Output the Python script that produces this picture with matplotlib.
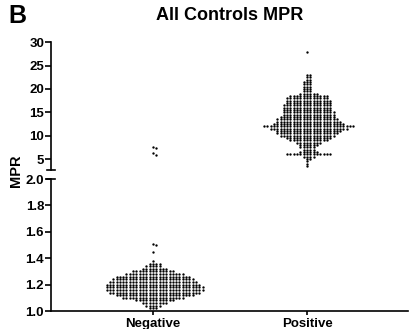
import numpy as np
import matplotlib
matplotlib.use("Agg")
import matplotlib.pyplot as plt

plt.rcParams['font.family'] = ['Liberation Sans', 'DejaVu Sans']
plt.rcParams['font.weight'] = 'bold'

# categories and x positions
categories = ['Negative', 'Positive']

# Negative controls: row levels (MPR) and number of dots in each row
neg_levels = [1.02, 1.04, 1.06, 1.08, 1.10, 1.12, 1.14, 1.16, 1.18, 1.20,
              1.22, 1.24, 1.26, 1.28, 1.30, 1.32, 1.34, 1.36, 1.38]
neg_counts = [3, 5, 8, 12, 19, 24, 28, 30, 30, 29,
              27, 25, 23, 18, 13, 8, 5, 4, 1]
neg_outliers = [1.45, 1.50, 1.51, 5.9, 6.4, 7.3, 7.5]

# Positive controls
pos_levels = [3.5, 4.0, 4.5, 5.0, 5.5, 6.0, 6.5, 7.0, 7.5, 8.0,
              8.5, 9.0, 9.5, 10.0, 10.5, 11.0, 11.5, 12.0, 12.5, 13.0,
              13.5, 14.0, 14.5, 15.0, 15.5, 16.0, 16.5, 17.0, 17.5, 18.0,
              18.5, 19.0, 19.5, 20.0, 20.5, 21.0, 21.5, 22.0, 22.5, 23.0]
pos_counts = [1, 1, 1, 2, 4, 14, 6, 4, 5, 6,
              8, 12, 14, 17, 19, 20, 24, 28, 22, 20,
              19, 17, 16, 16, 15, 15, 15, 14, 14, 13,
              12, 6, 3, 3, 3, 3, 3, 2, 2, 2]
pos_outliers = [27.8]

DX = 0.0215  # horizontal dot spacing in data units


def swarm_points(center, levels, counts, outliers):
    xs, ys = [], []
    for lv, n in zip(levels, counts):
        offs = (np.arange(n) - (n - 1) // 2) * DX
        xs.extend(center + offs)
        ys.extend([lv] * n)
    # outliers near the centre column
    for i, v in enumerate(outliers):
        xs.append(center + (i % 2) * DX)
        ys.append(v)
    return np.array(xs), np.array(ys)


fig = plt.figure(figsize=(4.09, 3.29), dpi=100)
left, width = 0.1247, 0.873
ax_top = fig.add_axes([left, 0.483, width, 0.389])
ax_bot = fig.add_axes([left, 0.0547, width, 0.401])

xlim = (-0.662, 1.656)
groups = [(neg_levels, neg_counts, neg_outliers), (pos_levels, pos_counts, pos_outliers)]
for ax in (ax_top, ax_bot):
    for i, (lv, ct, ol) in enumerate(groups):
        x, y = swarm_points(i, lv, ct, ol)
        ax.plot(x, y, 'o', color='black', ms=1.7, mew=0, linestyle='none')
    ax.set_xlim(*xlim)
    ax.spines['top'].set_visible(False)
    ax.spines['right'].set_visible(False)
    for s in ax.spines.values():
        s.set_linewidth(1.2)
    ax.tick_params(axis='y', direction='out', length=4, width=1.2, labelsize=9.5, pad=1)

ax_top.set_ylim(2.65, 30)
ax_top.set_yticks([5, 10, 15, 20, 25, 30])
ax_top.spines['bottom'].set_visible(False)
ax_top.tick_params(axis='x', bottom=False, labelbottom=False)

ax_bot.set_ylim(1.0, 2.0)
ax_bot.set_yticks([1.0, 1.2, 1.4, 1.6, 1.8, 2.0])
ax_bot.set_yticklabels(['1.0', '1.2', '1.4', '1.6', '1.8', '2.0'])
ax_bot.set_xticks([0, 1])
ax_bot.set_xticklabels(categories, fontsize=9.5, fontweight='bold')
ax_bot.tick_params(axis='x', direction='out', length=3, width=1.2, pad=2)

# break caps on the split y axis
cap = 0.011
ax_top.plot([-cap, cap], [0, 0], color='black', lw=1.2, transform=ax_top.transAxes, clip_on=False)
ax_bot.plot([-cap, cap], [1, 1], color='black', lw=1.2, transform=ax_bot.transAxes, clip_on=False)

fig.text(0.038, 0.48, 'MPR', rotation=90, ha='center', va='center', fontsize=10.5, fontweight='bold')
fig.text(0.561, 0.954, 'All Controls MPR', ha='center', va='center', fontsize=13, fontweight='bold')
fig.text(0.02, 0.952, 'B', ha='left', va='center', fontsize=18, fontweight='bold')

fig.savefig('out.png', dpi=100)
